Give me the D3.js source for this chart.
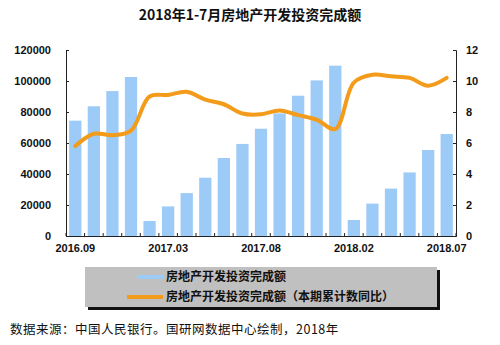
<!DOCTYPE html>
<html>
<head>
<meta charset="utf-8">
<script src="https://cdn.jsdelivr.net/npm/d3@7"></script>
<style>
  html, body { margin: 0; padding: 0; background: #fff; }
  svg { display: block; }
  text { font-family: "Liberation Sans", Arial, "Noto Sans CJK SC", sans-serif; }
</style>
</head>
<body>
<svg id="chart" width="500" height="345"></svg>
<script>
// ---- data ----
const categories = ["2016.09","2016.10","2016.11","2016.12","2017.02","2017.03","2017.04","2017.05","2017.06","2017.07","2017.08","2017.09","2017.10","2017.11","2017.12","2018.02","2018.03","2018.04","2018.05","2018.06","2018.07"];
const investment = [74400, 83700, 93500, 102600, 9700, 19100, 27700, 37600, 50300, 59400, 69200, 79100, 90500, 100400, 109900, 10300, 20900, 30600, 41000, 55500, 65800];
const yoyGrowth = [5.8, 6.6, 6.5, 6.8, 9.0, 9.1, 9.3, 8.8, 8.5, 7.9, 7.85, 8.1, 7.8, 7.5, 6.9, 9.9, 10.4, 10.3, 10.2, 9.7, 10.2];
const xTickLabels = ["2016.09","2017.03","2017.08","2018.02","2018.07"];
const leftTicks = [0, 20000, 40000, 60000, 80000, 100000, 120000];
const rightTicks = [0, 2, 4, 6, 8, 10, 12];
const titleText = "2018年1-7月房地产开发投资完成额";
const seriesNames = ["房地产开发投资完成额", "房地产开发投资完成额（本期累计数同比）"];
const sourceText = "数据来源：中国人民银行。国研网数据中心绘制，2018年";

// ---- layout ----
const svg = d3.select("#chart");
const plot = { left: 66, right: 456, top: 50, bottom: 236 };
const barColor = "#9CCBF7";
const lineColor = "#F39B1A";
const cjk = "\"Noto Sans CJK SC\", \"Liberation Sans\", sans-serif";

const x = d3.scaleBand().domain(categories).range([plot.left, plot.right]).paddingInner(0.34).paddingOuter(0.17);
const yL = d3.scaleLinear().domain([0, 120000]).range([plot.bottom, plot.top]);
const yR = d3.scaleLinear().domain([0, 12]).range([plot.bottom, plot.top]);

// title
svg.append("text").attr("x", 250).attr("y", 20).attr("text-anchor", "middle")
  .style("font-family", cjk).style("font-weight", "bold").style("font-size", "14px").attr("fill", "#111")
  .text(titleText);

// bars
svg.append("g").selectAll("rect").data(investment).join("rect")
  .attr("x", (d, i) => x(categories[i]))
  .attr("y", d => yL(d))
  .attr("width", x.bandwidth())
  .attr("height", d => plot.bottom - yL(d))
  .attr("fill", barColor);

// line
const line = d3.line()
  .x((d, i) => x(categories[i]) + x.bandwidth() / 2)
  .y(d => yR(d))
  .curve(d3.curveCatmullRom.alpha(0.5));
svg.append("path").datum(yoyGrowth).attr("d", line)
  .attr("fill", "none").attr("stroke", lineColor).attr("stroke-width", 4)
  .attr("stroke-linejoin", "round").attr("stroke-linecap", "round");

// left axis
const axL = svg.append("g").attr("transform", `translate(${plot.left},0)`)
  .call(d3.axisLeft(yL).tickValues(leftTicks).tickSize(-3).tickPadding(15).tickFormat(d3.format("d")));
// right axis
const axR = svg.append("g").attr("transform", `translate(${plot.right},0)`)
  .call(d3.axisRight(yR).tickValues(rightTicks).tickSize(-3).tickPadding(10).tickFormat(d3.format("d")));
// bottom axis
const axB = svg.append("g").attr("transform", `translate(0,${plot.bottom})`)
  .call(d3.axisBottom(x).tickValues(xTickLabels).tickSize(0).tickPadding(6));
// category boundary ticks
const step = x.step();
const boundaries = d3.range(categories.length + 1).map(i => i);
svg.append("g").selectAll("line").data(boundaries).join("line")
  .attr("x1", i => plot.left + (plot.right - plot.left) * i / categories.length)
  .attr("x2", i => plot.left + (plot.right - plot.left) * i / categories.length)
  .attr("y1", plot.bottom).attr("y2", plot.bottom - 3)
  .attr("stroke", "#222").attr("stroke-width", 1);

[axL, axR, axB].forEach(g => {
  g.select(".domain").attr("stroke", "#222").attr("stroke-width", 1);
  g.selectAll(".tick line").attr("stroke", "#222");
  g.selectAll("text").attr("fill", "#111").style("font-size", "11px").style("font-weight", "bold")
    .style("font-family", "\"Liberation Sans\", Arial, sans-serif");
});
axB.selectAll("text").attr("dy", "0.9em");

// legend
const lg = svg.append("g");
lg.append("rect").attr("x", 88).attr("y", 270).attr("width", 352).attr("height", 40).attr("fill", "#111");
lg.append("rect").attr("x", 85).attr("y", 267).attr("width", 352).attr("height", 40).attr("fill", "#C0C0C0");
const legendItems = [
  { name: seriesNames[0], color: barColor, x1: 137, y: 277 },
  { name: seriesNames[1], color: lineColor, x1: 127, y: 297 }
];
legendItems.forEach(it => {
  lg.append("line").attr("x1", it.x1).attr("x2", 163).attr("y1", it.y).attr("y2", it.y)
    .attr("stroke", it.color).attr("stroke-width", 4);
  lg.append("text").attr("x", 166).attr("y", it.y).attr("dy", "0.36em")
    .style("font-family", cjk).style("font-weight", "bold").style("font-size", "12px").attr("fill", "#111")
    .text(it.name);
});

// source
svg.append("text").attr("x", 10).attr("y", 329).attr("dy", "0.36em")
  .style("font-family", cjk).style("font-size", "12.5px").style("letter-spacing", "0.5px").attr("fill", "#111")
  .text(sourceText);
</script>
</body>
</html>
